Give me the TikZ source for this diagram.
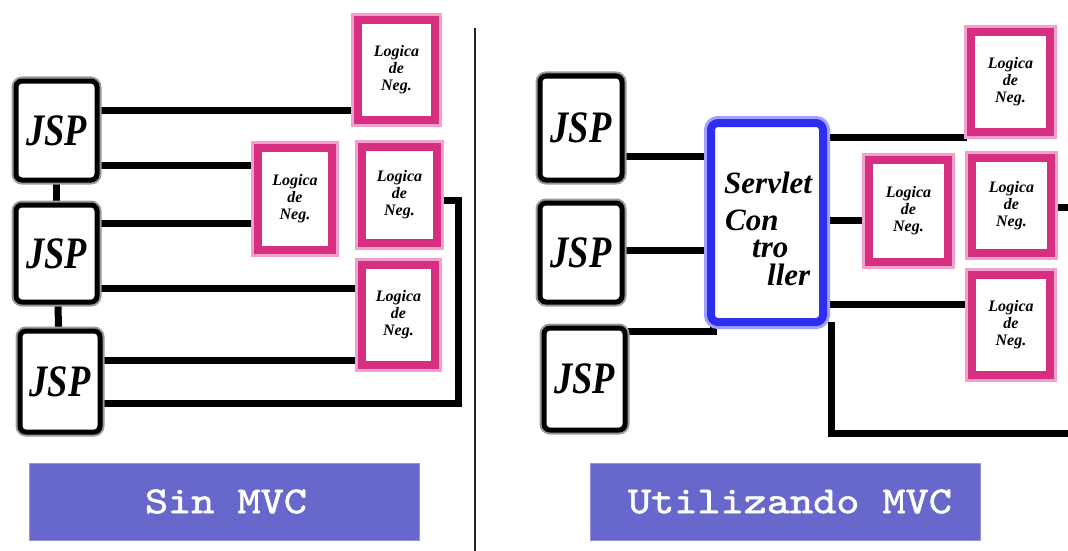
\documentclass[tikz,border=0pt]{standalone}
\usepackage{fontspec}
\setmainfont{Liberation Serif}
\newfontfamily\capfont{lmmono10-regular.otf}[FakeStretch=1.16,FakeBold=1.6]
\usetikzlibrary{backgrounds,calc}

\definecolor{negpink}{RGB}{214,46,128}
\definecolor{negglow}{RGB}{242,160,205}
\definecolor{ctlblue}{RGB}{46,46,238}
\definecolor{ctlglow}{RGB}{160,160,255}
\definecolor{tagfill}{RGB}{104,104,204}

\pgfdeclarelayer{canvas}
\pgfsetlayers{canvas,background,main}

\newcommand{\jsplabel}{\scalebox{0.81}[1]{JSP}}

\begin{document}
\begin{tikzpicture}[x=1pt,y=-1pt,
  jspbox/.style={fill=white, draw=black, line width=5pt, rounded corners=6pt,
    inner sep=0pt, preaction={draw=black!40, line width=9pt},
    font=\fontsize{45}{45}\selectfont\bfseries\itshape},
  negbox/.style={fill=white, draw=negpink, line width=8pt, inner sep=0pt,
    preaction={draw=negglow, line width=14pt},
    align=center, font=\fontsize{16}{17}\selectfont\bfseries\itshape},
  ctlbox/.style={fill=white, draw=ctlblue, line width=8pt, rounded corners=7pt,
    inner sep=0pt, preaction={draw=ctlglow, line width=14pt}},
  ctltext/.style={anchor=base west, inner sep=0pt,
    font=\fontsize{31}{31}\selectfont\bfseries\itshape},
  tagbox/.style={fill=tagfill, draw=tagfill!70!white, line width=0.8pt,
    inner sep=0pt, text=white, font=\capfont\fontsize{38}{38}\selectfont},
  wire/.style={draw=black, line width=7pt, line join=miter},
  divider/.style={draw=black!85, line width=1.6pt}]

\useasboundingbox (0,0) rectangle (1068,551);
\begin{pgfonlayer}{canvas}
  \fill[white] (0,0) rectangle (1068,551);
\end{pgfonlayer}

% ---------- left half: pages talking to business logic directly ----------
\node[jspbox, minimum width=81pt, minimum height=99pt]  (jl1) at (56.5,130.5) {\jsplabel};
\node[jspbox, minimum width=81pt, minimum height=97pt]  (jl2) at (56.5,253.5) {\jsplabel};
\node[jspbox, minimum width=80pt, minimum height=101pt] (jl3) at (60,381.5)   {\jsplabel};

\node[negbox, minimum width=77pt, minimum height=100pt] (nl1) at (396.5,70)  {Logica\\de\\Neg.};
\node[negbox, minimum width=74pt, minimum height=102pt] (nl2) at (295,199)   {Logica\\de\\Neg.};
\node[negbox, minimum width=75pt, minimum height=96pt]  (nl3) at (399.5,195) {Logica\\de\\Neg.};
\node[negbox, minimum width=73pt, minimum height=100pt] (nl4) at (398.5,315) {Logica\\de\\Neg.};

% ---------- right half: a servlet controller in between ----------
\node[jspbox, minimum width=82pt, minimum height=104pt] (jr1) at (581,128)   {\jsplabel};
\node[jspbox, minimum width=82pt, minimum height=99pt]  (jr2) at (581,252.5) {\jsplabel};
\node[jspbox, minimum width=81pt, minimum height=102pt] (jr3) at (584.5,379) {\jsplabel};

\node[ctlbox, minimum width=112pt, minimum height=199pt] (ctl) at (767,222.5) {};
\node[ctltext] (ct1) at (724,193) {Servlet};
\node[ctltext] (ct2) at (725,230) {Con};
\node[ctltext] (ct3) at (752,257) {tro};
\node[ctltext] (ct4) at (767,285) {ller};

\node[negbox, minimum width=79pt, minimum height=100pt] (nr1) at (1010.5,82)  {Logica\\de\\Neg.};
\node[negbox, minimum width=79pt, minimum height=102pt] (nr2) at (908.5,211)  {Logica\\de\\Neg.};
\node[negbox, minimum width=79pt, minimum height=95pt]  (nr3) at (1011.5,205.5) {Logica\\de\\Neg.};
\node[negbox, minimum width=78pt, minimum height=100pt] (nr4) at (1011,325)   {Logica\\de\\Neg.};

\coordinate (edgeA) at (1068,207);
\coordinate (edgeB) at (1068,433);

% ---------- captions and divider ----------
\node[tagbox, minimum width=390pt, minimum height=77pt] (tag1) at (224,501.5) {\hspace*{4pt}Sin MVC};
\node[tagbox, minimum width=390pt, minimum height=77pt] (tag2) at (785,501.5) {\hspace*{10pt}Utilizando MVC};

\coordinate (divtop) at (475,28);
\coordinate (divbot) at (475,551);
\draw[divider] (divtop) -- (divbot);

% ---------- wiring ----------
\begin{pgfonlayer}{background}
  % left
  \draw[wire] (jl1.south) -- (jl2.north);
  \draw[wire] ([xshift=1.5pt]jl2.south) -- ([xshift=-1.5pt]jl3.north);
  \draw[wire] (jl1.east |- 0,110) -- (nl1.west |- 0,110);
  \draw[wire] (jl1.east |- 0,165) -- (nl2.west |- 0,165);
  \draw[wire] (jl2.east |- 0,223) -- (nl2.west |- 0,223);
  \draw[wire] (jl2.east |- 0,288) -- (nl4.west |- 0,288);
  \draw[wire] (jl3.east |- 0,360) -- (nl4.west |- 0,360);
  \draw[wire] (nl3.east |- 0,200) -- (458,200) |- (jl3.east |- 0,403);
  % right
  \draw[wire] (jr1.east |- 0,156) -- (ctl.west |- 0,156);
  \draw[wire] (jr2.east |- 0,250) -- (ctl.west |- 0,250);
  \draw[wire] (jr3.east |- 0,331) -| ([xshift=6pt]ctl.south west);
  \draw[wire] (ctl.east |- 0,137) -- (nr1.west |- 0,137);
  \draw[wire] (ctl.east |- 0,220) -- (nr2.west |- 0,220);
  \draw[wire] (ctl.east |- 0,304) -- (nr4.west |- 0,304);
  \draw[wire] (nr3.east |- 0,207) -- (edgeA);
  \draw[wire] ([xshift=4pt,yshift=4pt]ctl.south east) |- (edgeB);
\end{pgfonlayer}
\end{tikzpicture}
\end{document}
